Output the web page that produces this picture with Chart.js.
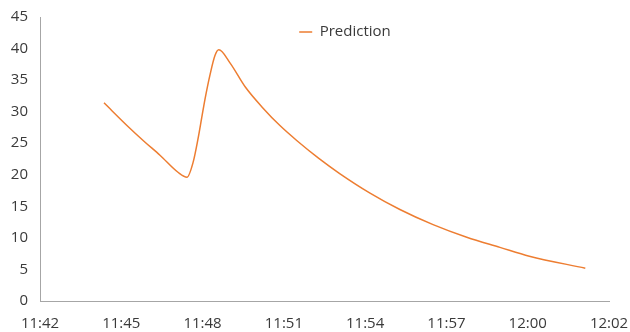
<!DOCTYPE html>
<html>
<head>
<meta charset="utf-8">
<script src="https://cdn.jsdelivr.net/npm/chart.js@4/dist/chart.umd.min.js"></script>
<style>
  html, body { margin: 0; padding: 0; background: #ffffff; }
  #wrap { width: 630px; height: 332px; }
</style>
</head>
<body>
<div id="wrap"><canvas id="c" width="630" height="332"></canvas></div>
<script>
// ---- data ----
const seriesName = 'Prediction';
const axisStart = '11:42:00';
const axisEnd = '12:02:00';
const xTickLabels = ['11:42', '11:45', '11:48', '11:51', '11:54', '11:57', '12:00', '12:02'];
const yTicks = [0, 5, 10, 15, 20, 25, 30, 35, 40, 45];
const times = [
  '11:44:15', '11:45:05', '11:45:41', '11:46:13', '11:46:51', '11:47:10',
  '11:47:23', '11:47:33', '11:47:41', '11:47:48', '11:47:59', '11:48:09',
  '11:48:17', '11:48:41', '11:49:13', '11:49:50', '11:50:26', '11:51:02',
  '11:51:48', '11:52:32', '11:53:36', '11:54:39', '11:55:49',
  '11:57:00', '11:58:10', '11:59:12', '12:01:10'
];
const predictions = [
  31.4, 27.7, 25.2, 23.1, 20.4, 19.6,
  22.0, 25.6, 29.0, 32.0, 36.0, 38.9,
  39.8, 37.7, 33.9, 30.6, 27.8, 25.4,
  22.6, 20.2, 17.1, 14.5, 12.1,
  10.1, 8.5, 7.1, 5.2
];

// ---- helpers ----
function toMin(t) {
  const p = t.split(':').map(Number);
  return p[0] * 60 + p[1] + (p[2] || 0) / 60;
}
const t0 = toMin(axisStart);
const span = toMin(axisEnd) - t0;
const points = times.map((t, i) => ({ x: toMin(t) - t0, y: predictions[i] }));

const FONT = "'Open Sans', 'Noto Sans', sans-serif";
const TEXT = '#3a3a3a';
const AXIS = '#a6a6a6';

const legendShift = {
  id: 'legendShift',
  afterInit(chart) {
    const lg = chart.legend;
    if (!lg) return;
    const fit = lg.fit.bind(lg);
    lg.fit = function () { fit(); this.height = 0; };
  },
  afterLayout(chart) {
    const lg = chart.legend;
    if (!lg) return;
    lg.left = 30; lg.right = chart.width + 30;
    lg.top = 14.5; lg.bottom = lg.top + 35;
  }
};

new Chart(document.getElementById('c'), {
  type: 'line',
  data: {
    datasets: [{
      label: seriesName,
      data: points,
      borderColor: '#ED7D31',
      backgroundColor: '#ED7D31',
      borderWidth: 1.5,
      pointRadius: 0,
      cubicInterpolationMode: 'monotone',
      fill: false
    }]
  },
  options: {
    responsive: false,
    animation: false,
    layout: { padding: 0 },
    plugins: {
      legend: {
        display: true,
        position: 'top',
        labels: {
          usePointStyle: true,
          pointStyle: 'line',
          pointStyleWidth: 13,
          color: TEXT,
          padding: 10,
          font: { family: FONT, size: 15 }
        }
      },
      tooltip: { enabled: false }
    },
    scales: {
      x: {
        type: 'linear',
        min: 0,
        max: span,
        afterBuildTicks(scale) {
          scale.ticks = xTickLabels.map((l, i) => ({ value: i * span / (xTickLabels.length - 1) }));
        },
        afterFit(scale) {
          scale.height = 31;
          scale.paddingLeft = 0;
          scale.paddingRight = 21;
        },
        grid: { display: false, drawTicks: false },
        border: { display: true, color: AXIS, width: 1 },
        ticks: {
          autoSkip: false,
          maxRotation: 0,
          padding: 14,
          color: TEXT,
          font: { family: FONT, size: 15 },
          callback: (v, i) => xTickLabels[i]
        }
      },
      y: {
        type: 'linear',
        min: yTicks[0],
        max: yTicks[yTicks.length - 1],
        afterBuildTicks(scale) {
          scale.ticks = yTicks.map(v => ({ value: v }));
        },
        afterFit(scale) {
          scale.width = 40;
          scale.paddingTop = 17;
          scale.paddingBottom = 0;
        },
        grid: { display: false, drawTicks: false },
        border: { display: true, color: AXIS, width: 1 },
        ticks: {
          padding: 12,
          color: TEXT,
          font: { family: FONT, size: 15 },
          callback: (v) => String(v)
        }
      }
    }
  },
  plugins: [legendShift]
});
</script>
</body>
</html>
